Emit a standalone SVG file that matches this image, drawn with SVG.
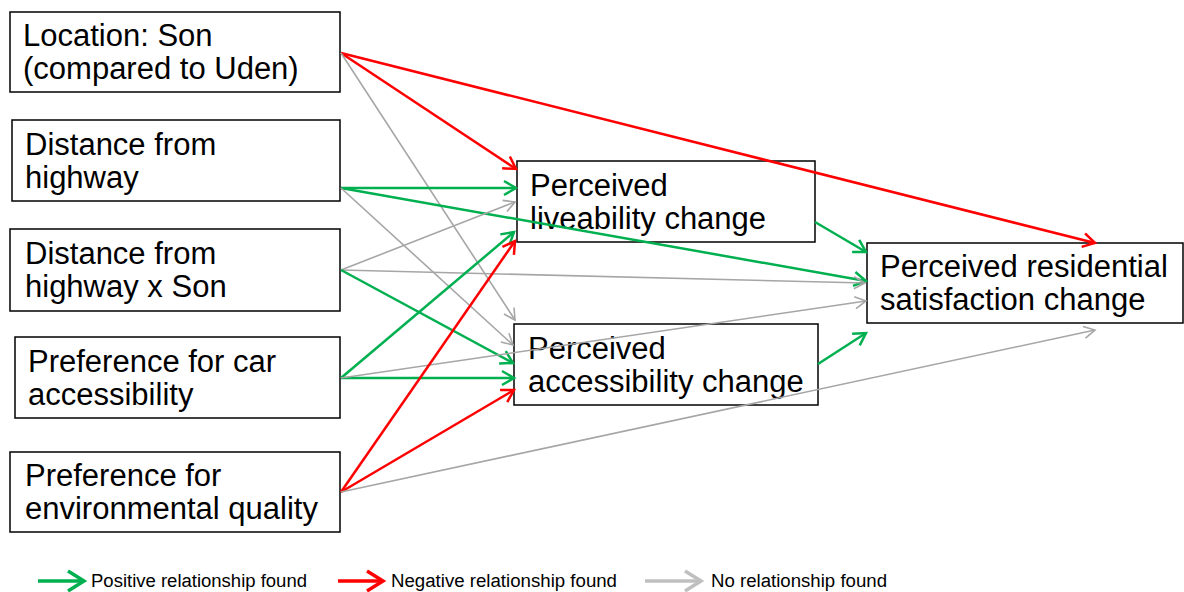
<svg xmlns="http://www.w3.org/2000/svg" width="1184" height="592" viewBox="0 0 1184 592">
<style>
.box{fill:#fff;stroke:#000;stroke-width:1.5}
.t{font-family:"Liberation Sans",Arial,sans-serif;font-size:31px;fill:#000}
.lg{font-family:"Liberation Sans",Arial,sans-serif;font-size:18px;fill:#000}
.g{stroke:#00B050;stroke-width:2.5;fill:none}
.r{stroke:#FF0000;stroke-width:2.5;fill:none}
.k{stroke:#A6A6A6;stroke-width:1.6;fill:none}
.gl{stroke:#00B050;stroke-width:3.5;fill:none}
.rl{stroke:#FF0000;stroke-width:3.5;fill:none}
.kl{stroke:#BFBFBF;stroke-width:3.5;fill:none}
</style>
<defs>
<marker id="mg" viewBox="-1 -1 14 16" refX="12" refY="7" markerWidth="14" markerHeight="16" markerUnits="userSpaceOnUse" orient="auto" overflow="visible"><path d="M0,0 L12,7 L0,14" fill="none" stroke="#00B050" stroke-width="2.5"/></marker>
<marker id="mr" viewBox="-1 -1 14 16" refX="12" refY="7" markerWidth="14" markerHeight="16" markerUnits="userSpaceOnUse" orient="auto" overflow="visible"><path d="M0,0 L12,7 L0,14" fill="none" stroke="#FF0000" stroke-width="2.5"/></marker>
<marker id="mk" viewBox="-1 -1 14 16" refX="12" refY="7" markerWidth="14" markerHeight="16" markerUnits="userSpaceOnUse" orient="auto" overflow="visible"><path d="M1,1 L12,7 L1,13" fill="none" stroke="#A6A6A6" stroke-width="1.6"/></marker>
<marker id="mgl" viewBox="-1 -1 18 22" refX="16" refY="10" markerWidth="18" markerHeight="22" markerUnits="userSpaceOnUse" orient="auto" overflow="visible"><path d="M0,0 L16,10 L0,20" fill="none" stroke="#00B050" stroke-width="3.5"/></marker>
<marker id="mrl" viewBox="-1 -1 18 22" refX="16" refY="10" markerWidth="18" markerHeight="22" markerUnits="userSpaceOnUse" orient="auto" overflow="visible"><path d="M0,0 L16,10 L0,20" fill="none" stroke="#FF0000" stroke-width="3.5"/></marker>
<marker id="mkl" viewBox="-1 -1 18 22" refX="16" refY="10" markerWidth="18" markerHeight="22" markerUnits="userSpaceOnUse" orient="auto" overflow="visible"><path d="M0,0 L16,10 L0,20" fill="none" stroke="#BFBFBF" stroke-width="3.5"/></marker>
</defs>
<rect width="1184" height="592" fill="#fff"/>
<g id="nodes">
<g id="n-location"><rect class="box" x="10" y="12" width="330" height="80"/><text class="t" x="23" y="46">Location: Son</text><text class="t" x="23" y="79">(compared to Uden)</text></g>
<g id="n-distance"><rect class="box" x="12" y="120" width="328" height="81"/><text class="t" x="25" y="155">Distance from</text><text class="t" x="25" y="188">highway</text></g>
<g id="n-distance-son"><rect class="box" x="10" y="229" width="330" height="82"/><text class="t" x="25" y="264">Distance from</text><text class="t" x="25" y="297">highway x Son</text></g>
<g id="n-car"><rect class="box" x="15" y="337" width="325" height="81"/><text class="t" x="28" y="372">Preference for car</text><text class="t" x="28" y="405">accessibility</text></g>
<g id="n-env"><rect class="box" x="10" y="452" width="330" height="80"/><text class="t" x="25" y="486">Preference for</text><text class="t" x="25" y="519">environmental quality</text></g>
<g id="n-live"><rect class="box" x="517" y="161" width="298" height="81"/><text class="t" x="530" y="196">Perceived</text><text class="t" x="530" y="229">liveability change</text></g>
<g id="n-access"><rect class="box" x="514" y="324" width="304" height="81"/><text class="t" x="528" y="359">Perceived</text><text class="t" x="528" y="392">accessibility change</text></g>
<g id="n-sat"><rect class="box" x="867" y="243" width="316" height="80"/><text class="t" x="880" y="277">Perceived residential</text><text class="t" x="880" y="310">satisfaction change</text></g>
</g>
<g id="connectors">
<line class="r" x1="341" y1="53" x2="516" y2="169" marker-end="url(#mr)"/>
<line class="r" x1="341" y1="53" x2="1095" y2="243" marker-end="url(#mr)"/>
<line class="k" x1="341" y1="53" x2="515" y2="320" marker-end="url(#mk)"/>
<line class="g" x1="341" y1="188" x2="516" y2="188" marker-end="url(#mg)"/>
<line class="g" x1="341" y1="188" x2="866" y2="281" marker-end="url(#mg)"/>
<line class="k" x1="341" y1="188" x2="513" y2="345" marker-end="url(#mk)"/>
<line class="k" x1="341" y1="270" x2="515" y2="202" marker-end="url(#mk)"/>
<line class="k" x1="341" y1="270" x2="865" y2="283" marker-end="url(#mk)"/>
<line class="g" x1="341" y1="270" x2="513" y2="363" marker-end="url(#mg)"/>
<line class="g" x1="341" y1="378" x2="514" y2="232" marker-end="url(#mg)"/>
<line class="g" x1="341" y1="378" x2="514" y2="378" marker-end="url(#mg)"/>
<line class="k" x1="341" y1="378" x2="866" y2="301" marker-end="url(#mk)"/>
<line class="r" x1="341" y1="492" x2="515" y2="241" marker-end="url(#mr)"/>
<line class="r" x1="341" y1="492" x2="514" y2="390" marker-end="url(#mr)"/>
<line class="k" x1="341" y1="492" x2="1095" y2="330" marker-end="url(#mk)"/>
<line class="g" x1="815" y1="222" x2="866" y2="252" marker-end="url(#mg)"/>
<line class="g" x1="818" y1="364" x2="866" y2="333" marker-end="url(#mg)"/>
</g>
<g id="legend">
<line class="gl" x1="38" y1="581" x2="84" y2="581" marker-end="url(#mgl)"/>
<text class="lg" x="91" y="587" textLength="216" lengthAdjust="spacingAndGlyphs">Positive relationship found</text>
<line class="rl" x1="338" y1="581" x2="383" y2="581" marker-end="url(#mrl)"/>
<text class="lg" x="391" y="587" textLength="226" lengthAdjust="spacingAndGlyphs">Negative relationship found</text>
<line class="kl" x1="645" y1="581" x2="701" y2="581" marker-end="url(#mkl)"/>
<text class="lg" x="711" y="587" textLength="176" lengthAdjust="spacingAndGlyphs">No relationship found</text>
</g>
</svg>
